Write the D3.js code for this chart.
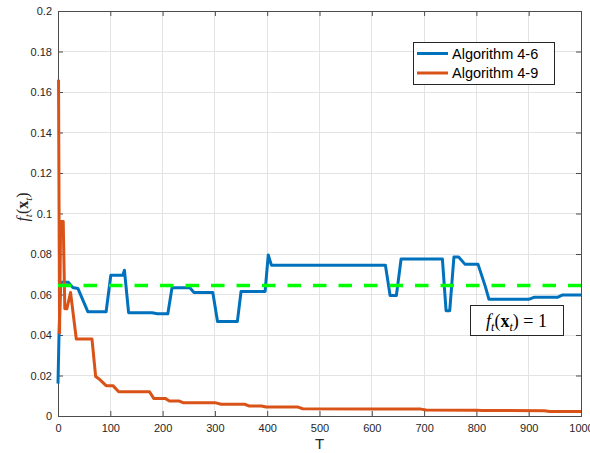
<!DOCTYPE html>
<html>
<head>
<meta charset="utf-8">
<script src="https://cdn.jsdelivr.net/npm/d3@7/dist/d3.min.js"></script>
<style>
  html, body { margin: 0; padding: 0; background: #fff; }
  svg { display: block; }
  text { font-family: "Liberation Sans", Arial, Helvetica, sans-serif; }
  .math { font-family: "Liberation Serif", "DejaVu Serif", serif; }
</style>
</head>
<body>
<svg id="chart" width="590" height="453"></svg>
<script>
// Iteration index and objective value for Algorithm 4-6
const tA46 = [0, 2, 5, 20, 28, 38, 57, 92, 101, 124, 127, 135, 180, 190, 210, 218, 252, 260, 296, 305, 343, 350, 396, 402, 408, 626, 635, 647, 656, 735, 742, 749, 757, 766, 778, 803, 817, 824, 900, 910, 955, 965, 1000];
const fA46 = [0.016, 0.041, 0.066, 0.066, 0.0635, 0.063, 0.0515, 0.0515, 0.0695, 0.0695, 0.072, 0.051, 0.051, 0.0505, 0.0505, 0.0633, 0.0633, 0.061, 0.061, 0.0467, 0.0467, 0.0615, 0.0615, 0.0795, 0.0745, 0.0745, 0.0595, 0.0595, 0.0775, 0.0775, 0.052, 0.052, 0.0785, 0.0785, 0.075, 0.075, 0.064, 0.0576, 0.0576, 0.0586, 0.0586, 0.0598, 0.0598];

// Iteration index and objective value for Algorithm 4-9
const tA49 = [1, 3, 5, 10, 13, 17, 24, 35, 65, 72, 80, 92, 105, 116, 175, 183, 205, 213, 232, 239, 300, 312, 357, 366, 389, 398, 459, 468, 600, 694, 704, 800, 810, 930, 940, 1000];
const fA49 = [0.166, 0.041, 0.096, 0.096, 0.053, 0.053, 0.061, 0.038, 0.038, 0.0195, 0.018, 0.015, 0.015, 0.012, 0.012, 0.0087, 0.0087, 0.0074, 0.0074, 0.0066, 0.0066, 0.0058, 0.0058, 0.0049, 0.0049, 0.0044, 0.0044, 0.0036, 0.0035, 0.0034, 0.003, 0.0029, 0.0027, 0.0026, 0.0022, 0.0022];

// Reference level f_t(x_t) = 1
const refLevel = 0.0645;

const xTicks = [0, 100, 200, 300, 400, 500, 600, 700, 800, 900, 1000];
const yTicks = [0, 0.02, 0.04, 0.06, 0.08, 0.1, 0.12, 0.14, 0.16, 0.18, 0.2];
const yTickLabels = ["0", "0.02", "0.04", "0.06", "0.08", "0.1", "0.12", "0.14", "0.16", "0.18", "0.2"];
const seriesNames = ["Algorithm 4-6", "Algorithm 4-9"];
const seriesColors = ["#0072BD", "#D95319"];

const W = 590, H = 453;
const margin = { left: 58, right: 9, top: 11, bottom: 37 };
const iw = W - margin.left - margin.right;
const ih = H - margin.top - margin.bottom;

const svg = d3.select("#chart");
const g = svg.append("g").attr("transform", `translate(${margin.left},${margin.top})`);

const x = d3.scaleLinear().domain([0, 1000]).range([0, iw]);
const y = d3.scaleLinear().domain([0, 0.2]).range([ih, 0]);

// grid
g.append("g").selectAll("line").data(xTicks).join("line")
  .attr("x1", d => x(d)).attr("x2", d => x(d)).attr("y1", 0).attr("y2", ih)
  .attr("stroke", "#e3e3e3").attr("stroke-width", 1).attr("shape-rendering", "crispEdges");
g.append("g").selectAll("line").data(yTicks).join("line")
  .attr("y1", d => y(d)).attr("y2", d => y(d)).attr("x1", 0).attr("x2", iw)
  .attr("stroke", "#e3e3e3").attr("stroke-width", 1).attr("shape-rendering", "crispEdges");

// axes: labels outside, ticks pointing inward on all four sides
const tickLen = 5;
const axisColor = "#4d4d4d";
const xAxis = d3.axisBottom(x).tickValues(xTicks).tickSize(-tickLen).tickPadding(8).tickFormat(d3.format("d"));
const yAxis = d3.axisLeft(y).tickValues(yTicks).tickSize(-tickLen).tickPadding(6).tickFormat((d, i) => yTickLabels[i]);

g.append("g").attr("transform", `translate(0,${ih})`).call(xAxis);
g.append("g").call(yAxis);
g.append("g").call(d3.axisTop(x).tickValues(xTicks).tickSize(-tickLen).tickFormat(""));
g.append("g").attr("transform", `translate(${iw},0)`).call(d3.axisRight(y).tickValues(yTicks).tickSize(-tickLen).tickFormat(""));

g.selectAll(".domain").attr("stroke", axisColor).attr("stroke-width", 1);
g.selectAll(".tick line").attr("stroke", axisColor).attr("stroke-width", 1);
g.selectAll(".tick text").attr("fill", "#262626").style("font-size", "11px")
  .style("font-family", '"Liberation Sans", Arial, Helvetica, sans-serif');

// series lines
const line = d3.line().x(d => x(d[0])).y(d => y(d[1]));
const dataA46 = tA46.map((t, i) => [t, fA46[i]]);
const dataA49 = tA49.map((t, i) => [t, fA49[i]]);

[dataA46, dataA49].forEach((data, i) => {
  g.append("path").datum(data).attr("d", line)
    .attr("fill", "none").attr("stroke", seriesColors[i]).attr("stroke-width", 3)
    .attr("stroke-linejoin", "round").attr("stroke-linecap", "butt");
});

// dashed reference line
g.append("line")
  .attr("x1", x(0)).attr("x2", x(1000)).attr("y1", y(refLevel)).attr("y2", y(refLevel))
  .attr("stroke", "#00FF00").attr("stroke-width", 3.5).attr("stroke-dasharray", "13.5,12");

// legend
const leg = g.append("g").attr("transform", `translate(${413 - margin.left},${42 - margin.top})`);
leg.append("rect").attr("x", 0.5).attr("y", 0.5).attr("width", 141).attr("height", 42)
  .attr("fill", "#fff").attr("stroke", "#262626").attr("stroke-width", 1);
seriesNames.forEach((name, i) => {
  const yy = 11.5 + i * 19.5;
  leg.append("line").attr("x1", 4).attr("x2", 35).attr("y1", yy).attr("y2", yy)
    .attr("stroke", seriesColors[i]).attr("stroke-width", 3);
  leg.append("text").attr("x", 39).attr("y", yy).attr("dy", "0.36em")
    .attr("fill", "#000").style("font-size", "14.5px").text(name);
});

// annotation box
const ann = g.append("g").attr("transform", `translate(${470 - margin.left},${305 - margin.top})`);
ann.append("rect").attr("x", 0.5).attr("y", 0.5).attr("width", 93).attr("height", 30)
  .attr("fill", "#fff").attr("stroke", "#262626").attr("stroke-width", 1);
const annText = ann.append("text").attr("class", "math").attr("x", 46.5).attr("y", 22)
  .attr("text-anchor", "middle").style("font-size", "18px").attr("fill", "#000");
annText.append("tspan").attr("font-style", "italic").text("f");
annText.append("tspan").attr("font-style", "italic").attr("font-size", "12px").attr("dy", 4).text("t");
annText.append("tspan").attr("dy", -4).text("(");
annText.append("tspan").attr("font-weight", "bold").text("x");
annText.append("tspan").attr("font-style", "italic").attr("font-size", "12px").attr("dy", 4).text("t");
annText.append("tspan").attr("dy", -4).text(") = 1");

// axis titles
svg.append("text").attr("x", margin.left + iw / 2).attr("y", 449)
  .attr("text-anchor", "middle").style("font-size", "15px").attr("fill", "#262626").text("T");

const yl = svg.append("text").attr("class", "math")
  .attr("transform", `translate(28,207) rotate(-90)`)
  .attr("text-anchor", "middle").style("font-size", "16px").attr("fill", "#262626");
yl.append("tspan").attr("font-style", "italic").text("f");
yl.append("tspan").attr("font-style", "italic").attr("font-size", "11px").attr("dy", 4).text("t");
yl.append("tspan").attr("dy", -4).text("(");
yl.append("tspan").attr("font-weight", "bold").text("x");
yl.append("tspan").attr("font-style", "italic").attr("font-size", "11px").attr("dy", 4).text("t");
yl.append("tspan").attr("dy", -4).text(")");
</script>
</body>
</html>
